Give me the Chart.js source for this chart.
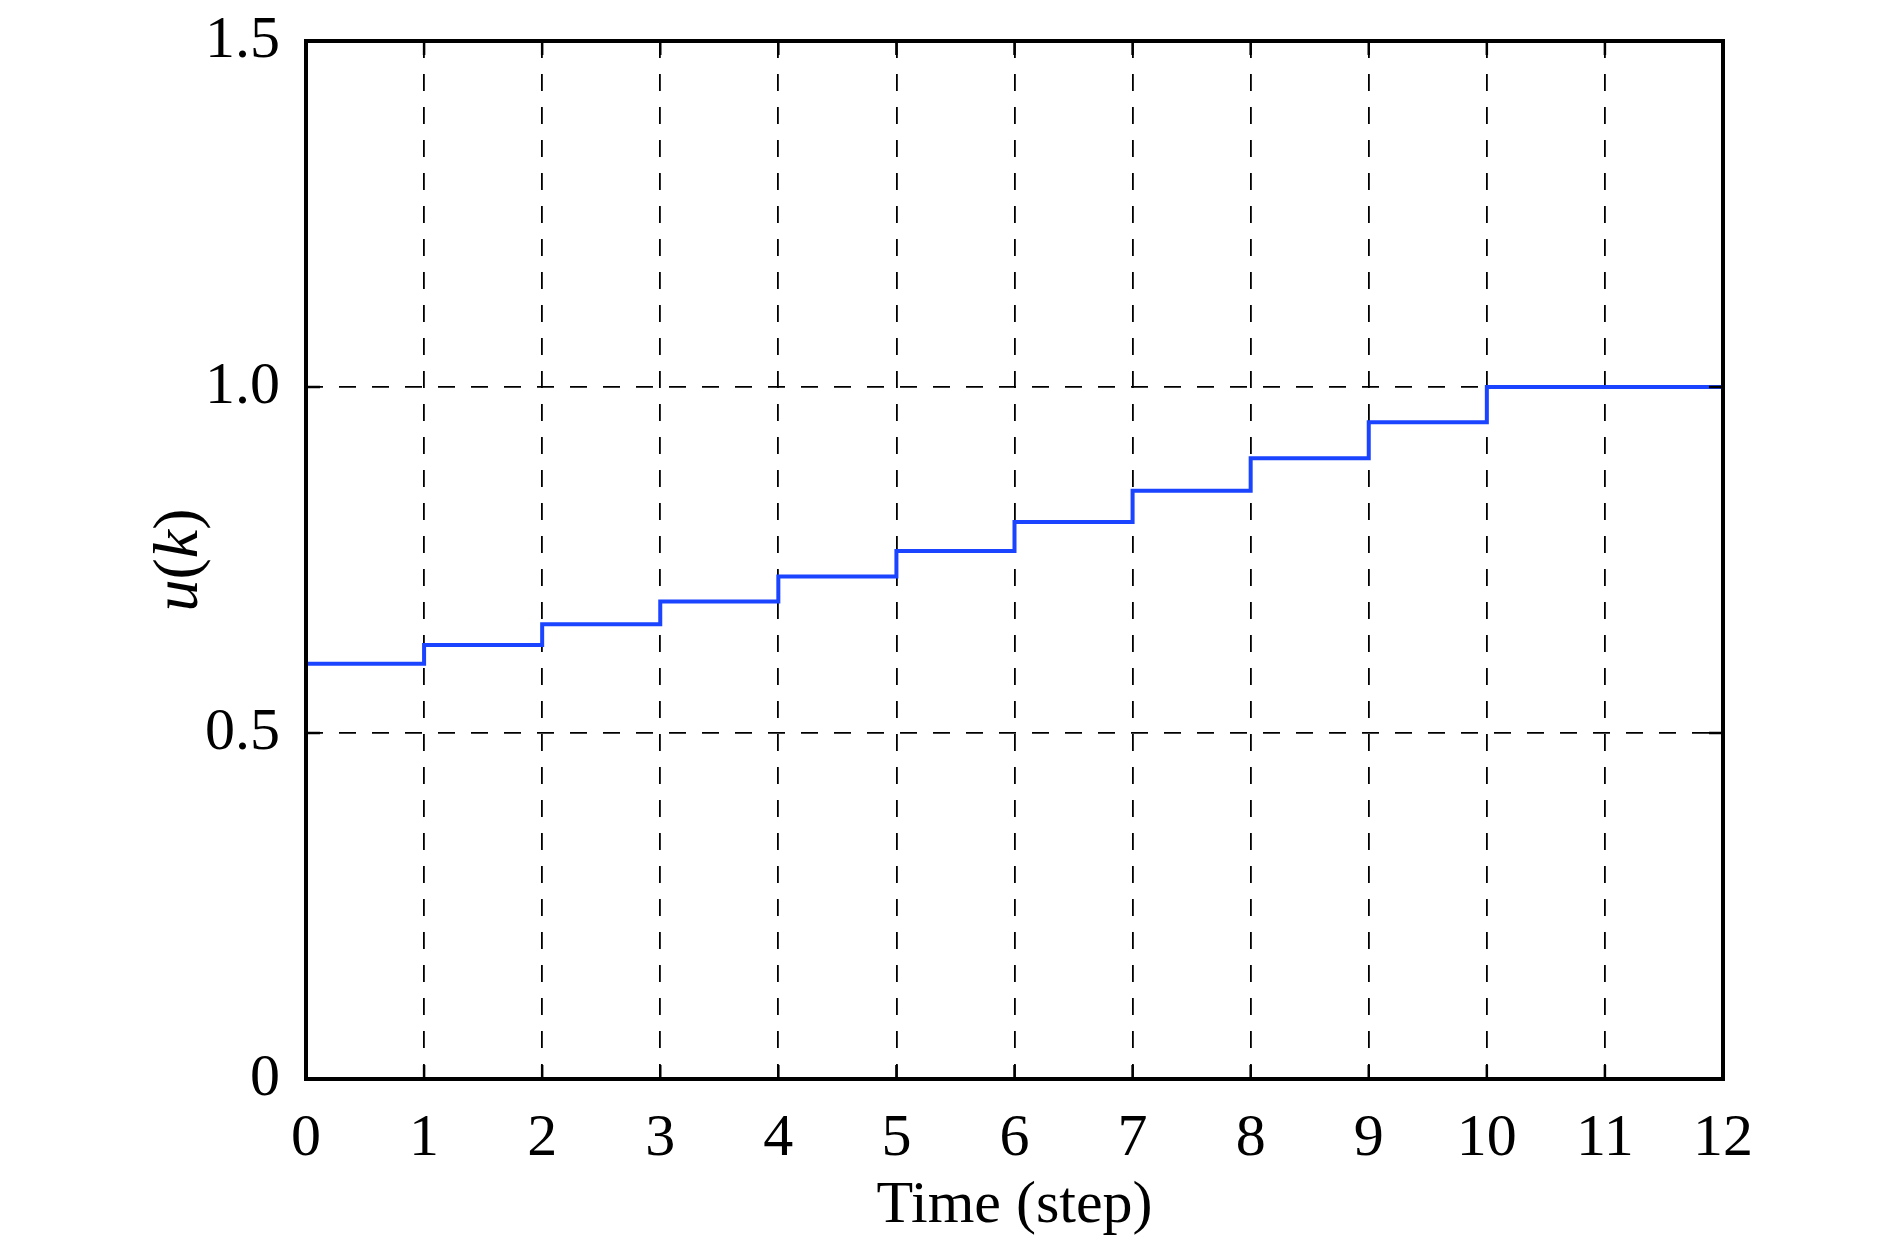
<!DOCTYPE html>
<html>
<head>
<meta charset="utf-8">
<script src="https://cdn.jsdelivr.net/npm/chart.js@4.4.0/dist/chart.umd.min.js"></script>
<style>
  html, body { margin: 0; padding: 0; background: #fff; }
  #wrap { width: 1890px; height: 1246px; }
</style>
</head>
<body>
<div id="wrap"><canvas id="c"></canvas></div>
<script>
const steps = [0, 1, 2, 3, 4, 5, 6, 7, 8, 9, 10, 11, 12];
const uValues = [0.600, 0.627, 0.657, 0.690, 0.726, 0.763, 0.805, 0.850, 0.897, 0.949, 1.0, 1.0, 1.0];
const yTickLabels = { 0: '0', 0.5: '0.5', 1: '1.0', 1.5: '1.5' };

const FONT = '"Liberation Serif", "Times New Roman", serif';

// frame around the plot area plus inward tick marks
const framePlugin = {
  id: 'frame',
  afterDraw(chart) {
    const { ctx, chartArea: a, scales } = chart;
    ctx.save();
    ctx.strokeStyle = '#000';
    ctx.lineWidth = 4;
    ctx.strokeRect(a.left, a.top, a.right - a.left, a.bottom - a.top);
    ctx.lineWidth = 2.5;
    ctx.beginPath();
    steps.forEach(s => {
      const x = scales.x.getPixelForValue(s);
      ctx.moveTo(x, a.bottom); ctx.lineTo(x, a.bottom - 14);
      ctx.moveTo(x, a.top); ctx.lineTo(x, a.top + 14);
    });
    [0.5, 1.0].forEach(v => {
      const y = scales.y.getPixelForValue(v);
      ctx.moveTo(a.left, y); ctx.lineTo(a.left + 14, y);
      ctx.moveTo(a.right, y); ctx.lineTo(a.right - 14, y);
    });
    ctx.stroke();

    // y title: u(k) with italic letters
    const parts = [['u', 'italic'], ['(', 'normal'], ['k', 'italic'], [')', 'normal']];
    ctx.fillStyle = '#000';
    ctx.textBaseline = 'middle';
    let total = 0;
    parts.forEach(p => { ctx.font = p[1] + ' 64px ' + FONT; total += ctx.measureText(p[0]).width; });
    ctx.translate(180, (a.top + a.bottom) / 2);
    ctx.rotate(-Math.PI / 2);
    let x = -total / 2;
    parts.forEach(p => {
      ctx.font = p[1] + ' 64px ' + FONT;
      ctx.fillText(p[0], x, 0);
      x += ctx.measureText(p[0]).width;
    });
    ctx.restore();
  }
};

new Chart(document.getElementById('c'), {
  type: 'line',
  data: {
    datasets: [{
      data: steps.map((s, i) => ({ x: s, y: uValues[i] })),
      borderColor: '#1a44ff',
      borderWidth: 4,
      pointRadius: 0,
      stepped: 'before',
      fill: false
    }]
  },
  options: {
    responsive: true,
    maintainAspectRatio: false,
    animation: false,
    layout: { padding: { top: 41, right: 167, bottom: 0, left: 0 } },
    plugins: {
      legend: { display: false },
      tooltip: { enabled: false }
    },
    scales: {
      x: {
        type: 'linear',
        min: 0,
        max: 12,
        afterBuildTicks: s => { s.ticks = steps.map(v => ({ value: v })); },
        afterFit: s => { s.height = 1246 - 1079; s.paddingLeft = 0; s.paddingRight = 0; },
        grid: {
          color: ctx => (ctx.tick && (ctx.tick.value === 0 || ctx.tick.value === 12)) ? 'rgba(0,0,0,0)' : '#000',
          lineWidth: 1.8,
          drawTicks: false
        },
        border: { display: false, dash: [17, 16] },
        ticks: {
          color: '#000',
          font: { family: FONT, size: 60 },
          padding: 24,
          maxRotation: 0,
          autoSkip: false
        },
        title: {
          display: true,
          text: 'Time (step)',
          color: '#000',
          font: { family: FONT, size: 60 },
          padding: { top: 0, bottom: 4 }
        }
      },
      y: {
        min: 0,
        max: 1.5,
        afterBuildTicks: s => { s.ticks = [0, 0.5, 1, 1.5].map(v => ({ value: v })); },
        afterFit: s => { s.width = 306; s.paddingTop = 0; s.paddingBottom = 0; },
        grid: {
          color: ctx => (ctx.tick && (ctx.tick.value === 0.5 || ctx.tick.value === 1)) ? '#000' : 'rgba(0,0,0,0)',
          lineWidth: 1.8,
          drawTicks: false
        },
        border: { display: false, dash: [17, 16] },
        ticks: {
          color: '#000',
          font: { family: FONT, size: 60 },
          padding: 26,
          callback: v => yTickLabels[v]
        }
      }
    }
  },
  plugins: [framePlugin]
});
</script>
</body>
</html>
